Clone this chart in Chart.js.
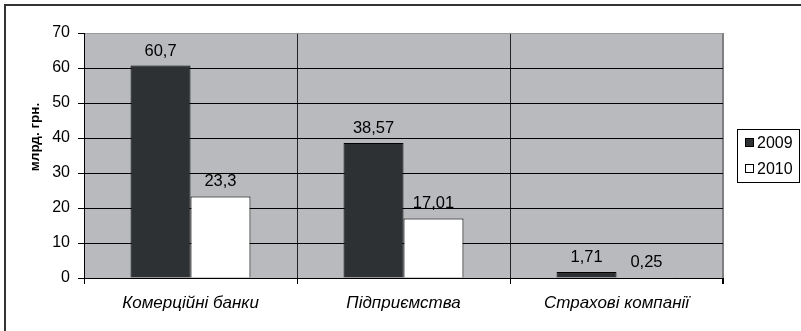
<!DOCTYPE html>
<html>
<head>
<meta charset="utf-8">
<script src="https://cdn.jsdelivr.net/npm/chart.js@4/dist/chart.umd.min.js"></script>
<style>
    html, body { margin: 0; padding: 0; background: #fff; }
    #wrap { width: 801px; height: 331px; }
</style>
</head>
<body>
<div id="wrap"><canvas id="chart" width="801" height="331"></canvas></div>
<script>
"use strict";

// categories and series
var categories = ["Комерційні банки", "Підприємства", "Страхові компанії"];
var series2009 = [60.7, 38.57, 1.71];
var series2010 = [23.3, 17.01, 0.25];
var seriesNames = ["2009", "2010"];
var yTicks = [0, 10, 20, 30, 40, 50, 60, 70];
var yTitle = "млрд. грн.";

var FONT = "'Liberation Sans', Arial, sans-serif";

function fmt(v) {
    return String(v).replace(".", ",");
}

// frame, plot background, value labels and boxed legend
var decor = {
    id: "decor",
    beforeDraw: function (chart) {
        var ctx = chart.ctx;
        var a = chart.chartArea;
        ctx.save();
        ctx.fillStyle = "#fff";
        ctx.fillRect(0, 0, chart.width, chart.height);
        ctx.strokeStyle = "#333";
        ctx.lineWidth = 2;
        ctx.beginPath();
        ctx.moveTo(5, chart.height);
        ctx.lineTo(5, 5);
        ctx.lineTo(chart.width, 5);
        ctx.stroke();
        ctx.fillStyle = "#b9babd";
        ctx.fillRect(a.left, a.top, a.right - a.left, a.bottom - a.top);
        ctx.restore();
    },
    afterDraw: function (chart) {
        var ctx = chart.ctx;
        ctx.save();

        // y axis title
        ctx.translate(35, 137);
        ctx.rotate(-Math.PI / 2);
        ctx.font = "bold 13.5px " + FONT;
        ctx.fillStyle = "#000";
        ctx.textAlign = "center";
        ctx.textBaseline = "middle";
        ctx.fillText(yTitle, 0, 0);
        ctx.setTransform(1, 0, 0, 1, 0, 0);

        // value labels
        ctx.font = "16.5px " + FONT;
        ctx.textAlign = "center";
        ctx.textBaseline = "alphabetic";
        chart.data.datasets.forEach(function (ds, di) {
            chart.getDatasetMeta(di).data.forEach(function (bar, i) {
                ctx.fillText(fmt(ds.data[i]), bar.x, bar.y - 10);
            });
        });

        // legend
        ctx.strokeStyle = "#000";
        ctx.lineWidth = 1;
        ctx.strokeRect(737.5, 129.5, 62, 53);
        ctx.font = "16px " + FONT;
        ctx.textAlign = "left";
        ctx.textBaseline = "middle";
        chart.data.datasets.forEach(function (ds, di) {
            var y = 143 + di * 26;
            ctx.fillStyle = ds.backgroundColor;
            ctx.fillRect(745, y - 5, 9, 9);
            ctx.strokeRect(745.5, y - 4.5, 8, 8);
            ctx.fillStyle = "#000";
            ctx.fillText(ds.label, 757, y + 1);
        });
        ctx.restore();
    }
};

var config = {
    type: "bar",
    data: {
        labels: categories,
        datasets: [
            {
                label: seriesNames[0],
                data: series2009,
                backgroundColor: "#2e3134",
                borderColor: "#000",
                borderWidth: 1
            },
            {
                label: seriesNames[1],
                data: series2010,
                backgroundColor: "#ffffff",
                borderColor: "#000",
                borderWidth: 1
            }
        ]
    },
    plugins: [decor],
    options: {
        responsive: false,
        animation: false,
        categoryPercentage: 0.563,
        barPercentage: 1,
        layout: {
            padding: { left: 0, top: 33, right: 78, bottom: 0 }
        },
        plugins: {
            legend: { display: false },
            tooltip: { enabled: false }
        },
        scales: {
            x: {
                grid: {
                    offset: true,
                    color: function (c) {
                        return c.type === "scale" ? "#808080" : "#222";
                    },
                    lineWidth: function (c) {
                        return c.type === "scale" ? 2 : 1;
                    },
                    tickColor: "#000",
                    tickLength: 6
                },
                border: { color: "#000", width: 1 },
                ticks: {
                    color: "#000",
                    padding: 9,
                    font: { family: FONT, size: 17, style: "italic" }
                },
                afterFit: function (scale) {
                    scale.height = 53;
                }
            },
            y: {
                min: 0,
                max: 70,
                afterBuildTicks: function (scale) {
                    scale.ticks = yTicks.map(function (v) { return { value: v }; });
                },
                grid: {
                    color: function (c) {
                        return c.tick && c.tick.value === 70 ? "#9a9a9a" : "#000";
                    },
                    tickColor: "#000",
                    tickLength: 6
                },
                border: { color: "#000", width: 1 },
                ticks: {
                    color: "#000",
                    padding: 8,
                    font: { family: FONT, size: 16 }
                },
                afterFit: function (scale) {
                    scale.width = 84;
                }
            }
        }
    }
};

new Chart(document.getElementById("chart"), config);
</script>
</body>
</html>
